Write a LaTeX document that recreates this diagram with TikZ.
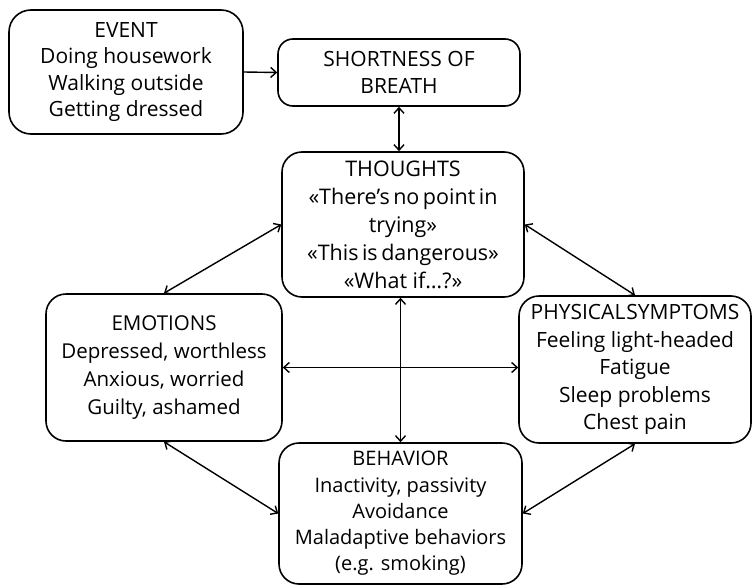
\documentclass[tikz,border=0pt]{standalone}
\usepackage{fontspec}
\setmainfont{Open Sans}
\usetikzlibrary{arrows.meta}
\newcommand\tightsp{\spaceskip 3.5pt\relax}
\newcommand\tinysp{\spaceskip 1pt\relax}
\begin{document}
\begin{tikzpicture}[x=1pt,y=-1pt,
  box/.style={draw, line width=1.6pt, rounded corners=20pt, align=center, inner sep=0pt,
    font=\fontsize{21}{26.5}\selectfont},
  link/.style={line width=1.4pt, {Straight Barb[length=5.5pt,width=10pt]}-{Straight Barb[length=5.5pt,width=10pt]}},
  onelink/.style={line width=1.4pt, -{Straight Barb[length=5.5pt,width=10pt]}}]
\useasboundingbox (0,0) rectangle (754,586);
\node[box, rounded corners=22pt, minimum width=234pt, minimum height=124pt] (event) at (126,72)
  {EVENT\\Doing housework\\Walking outside\\Getting dressed};
\node[box, rounded corners=15pt, minimum width=242pt, minimum height=67pt] (sob) at (399,72.5)
  {SHORTNESS OF\\BREATH};
\node[box, minimum width=242pt, minimum height=145pt, font=\fontsize{21.5}{28}\selectfont] (thoughts) at (403,224.5)
  {THOUGHTS\\{\tightsp «There’s no point in}\\trying»\\{\tightsp «This is dangerous»}\\«What if…?»};
\node[box, minimum width=236pt, minimum height=147pt, font=\fontsize{20.5}{27.7}\selectfont] (emotions) at (164,367.5)
  {EMOTIONS\\Depressed, worthless\\Anxious, worried\\Guilty, ashamed};
\node[box, minimum width=232pt, minimum height=147pt, font=\fontsize{21}{27.5}\selectfont] (physical) at (635,369.5)
  {{\tinysp PHYSICAL SYMPTOMS}\\Feeling light-headed\\Fatigue\\Sleep problems\\Chest pain};
\node[box, minimum width=243pt, minimum height=141pt, font=\fontsize{20}{26.2}\selectfont] (behavior) at (400.5,513.5)
  {BEHAVIOR\\Inactivity, passivity\\Avoidance\\Maladaptive behaviors\\(e.g. smoking)};
\draw[onelink] (event.east) -- (sob.west);
\draw[link] (sob.south) -- (sob.south |- thoughts.north);
\draw[link] (thoughts.west) -- (emotions.north);
\draw[link] (thoughts.east) -- (physical.north);
\draw[link] (behavior.north |- thoughts.south) -- (behavior.north);
\draw[link] (emotions.east) -- (emotions.east -| physical.west);
\draw[link] (emotions.south) -- (behavior.west);
\draw[link] (physical.south) -- (behavior.east);
\end{tikzpicture}
\end{document}
